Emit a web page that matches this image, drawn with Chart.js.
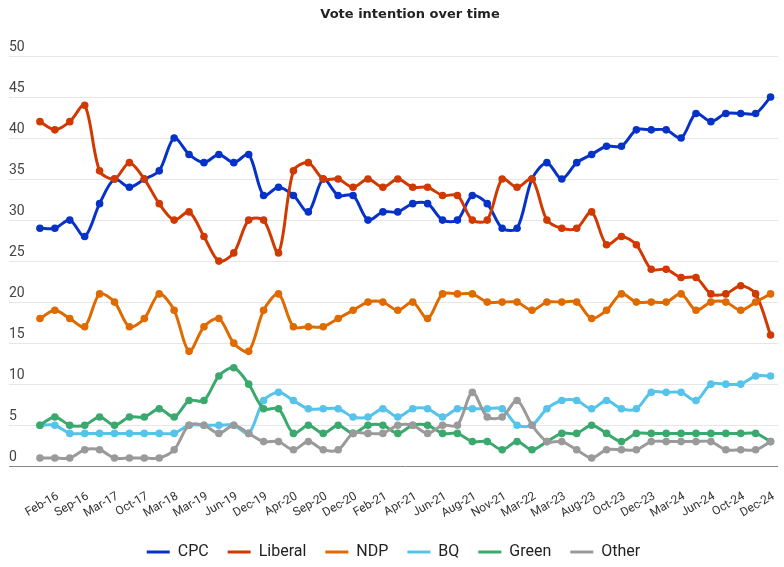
<!DOCTYPE html>
<html><head><meta charset="utf-8">
<script src="https://cdn.jsdelivr.net/npm/chart.js@4/dist/chart.umd.min.js"></script>
<style>html,body{margin:0;padding:0;background:#fff}#wrap{width:784px;height:567px;position:relative}</style>
</head><body><div id="wrap"><canvas id="c"></canvas></div>
<script>
const chartTitle = 'Vote intention over time';
const categories = ['Feb-16','','Sep-16','','Mar-17','','Oct-17','','Mar-18','','Mar-19','','Jun-19','','Dec-19','','Apr-20','','Sep-20','','Dec-20','','Feb-21','','Apr-21','','Jun-21','','Aug-21','','Nov-21','','Mar-22','','Mar-23','','Aug-23','','Oct-23','','Dec-23','','Mar-24','','Jun-24','','Oct-24','','Dec-24',''];
const seriesNames = ['CPC','Liberal','NDP','BQ','Green','Other'];
const cpc     = [29,29,30,28,32,35,34,35,36,40,38,37,38,37,38,33,34,33,31,35,33,33,30,31,31,32,32,30,30,33,32,29,29,35,37,35,37,38,39,39,41,41,41,40,43,42,43,43,43,45];
const liberal = [42,41,42,44,36,35,37,35,32,30,31,28,25,26,30,30,26,36,37,35,35,34,35,34,35,34,34,33,33,30,30,35,34,35,30,29,29,31,27,28,27,24,24,23,23,21,21,22,21,16];
const ndp     = [18,19,18,17,21,20,17,18,21,19,14,17,18,15,14,19,21,17,17,17,18,19,20,20,19,20,18,21,21,21,20,20,20,19,20,20,20,18,19,21,20,20,20,21,19,20,20,19,20,21];
const bq      = [5,5,4,4,4,4,4,4,4,4,5,5,5,5,4,8,9,8,7,7,7,6,6,7,6,7,7,6,7,7,7,7,5,5,7,8,8,7,8,7,7,9,9,9,8,10,10,10,11,11];
const green   = [5,6,5,5,6,5,6,6,7,6,8,8,11,12,10,7,7,4,5,4,5,4,5,5,4,5,5,4,4,3,3,2,3,2,3,4,4,5,4,3,4,4,4,4,4,4,4,4,4,3];
const other   = [1,1,1,2,2,1,1,1,1,2,5,5,4,5,4,3,3,2,3,2,2,4,4,4,5,5,4,5,5,9,6,6,8,5,3,3,2,1,2,2,2,3,3,3,3,3,2,2,2,3];
const yTicks = [0,5,10,15,20,25,30,35,40,45,50];
const colors = ['#0632c8','#d03a00','#de6a00','#55c3ea','#3aa96d','#9a9a9a'];

const seriesValues = [cpc, liberal, ndp, bq, green, other];
const datasets = seriesNames.map((name, i) => ({
  label: name,
  data: seriesValues[i],
  borderColor: colors[i],
  backgroundColor: colors[i],
  pointBackgroundColor: colors[i],
  borderWidth: 3,
  pointRadius: 3.8,
  pointBorderWidth: 0,
  tension: 0.3,
  order: seriesNames.length - i
}));

const titlePlugin = {
  id: 'topTitle',
  afterDraw(chart) {
    const c = chart.ctx;
    c.save();
    c.font = 'bold 13px "DejaVu Sans"';
    c.fillStyle = '#222';
    c.textAlign = 'center';
    c.textBaseline = 'middle';
    c.fillText(chartTitle, 410, 15);
    c.restore();
  }
};

Chart.defaults.font.family = 'Roboto';
new Chart(document.getElementById('c'), {
  type: 'line',
  data: { labels: categories, datasets },
  options: {
    responsive: true,
    maintainAspectRatio: false,
    animation: false,
    layout: { padding: { left: 9, right: 6, top: 56, bottom: -3 } },
    plugins: {
      title: { display: false },
      tooltip: { enabled: false },
      legend: {
        position: 'bottom',
        labels: {
          usePointStyle: true, pointStyle: 'line', pointStyleWidth: 23,
          padding: 19, font: { size: 16 }, color: '#222',
          sort: (a, b) => a.datasetIndex - b.datasetIndex,
          generateLabels: chart => Chart.defaults.plugins.legend.labels.generateLabels(chart).map(it => {
            const ds = chart.data.datasets[it.datasetIndex];
            it.lineWidth = 3; it.strokeStyle = ds.borderColor; it.fillStyle = ds.borderColor;
            return it;
          })
        }
      }
    },
    scales: {
      x: {
        offset: true,
        grid: { display: true, drawOnChartArea: false, drawTicks: true, tickLength: 23, tickColor: 'rgba(0,0,0,0)', color: 'rgba(0,0,0,0)' },
        border: { display: false },
        ticks: { autoSkip: false, minRotation: 30, maxRotation: 30, labelOffset: 18, padding: 0, font: { size: 12 }, color: '#333' },
        afterFit: s => { s.height = 58.8; }
      },
      y: {
        min: 0, max: 50,
        afterBuildTicks: s => { s.ticks = yTicks.map(v => ({ value: v })); },
        ticks: { crossAlign: 'far', labelOffset: -8.5, padding: 0, font: { size: 14 }, color: '#444' },
        grid: { color: c => (c.tick && c.tick.value === 0) ? '#888' : '#e6e6e6', tickLength: 23.5, drawTicks: true },
        border: { display: false },
        afterFit: s => { s.width = 23.5; }
      }
    }
  },
  plugins: [titlePlugin]
});
</script></body></html>
